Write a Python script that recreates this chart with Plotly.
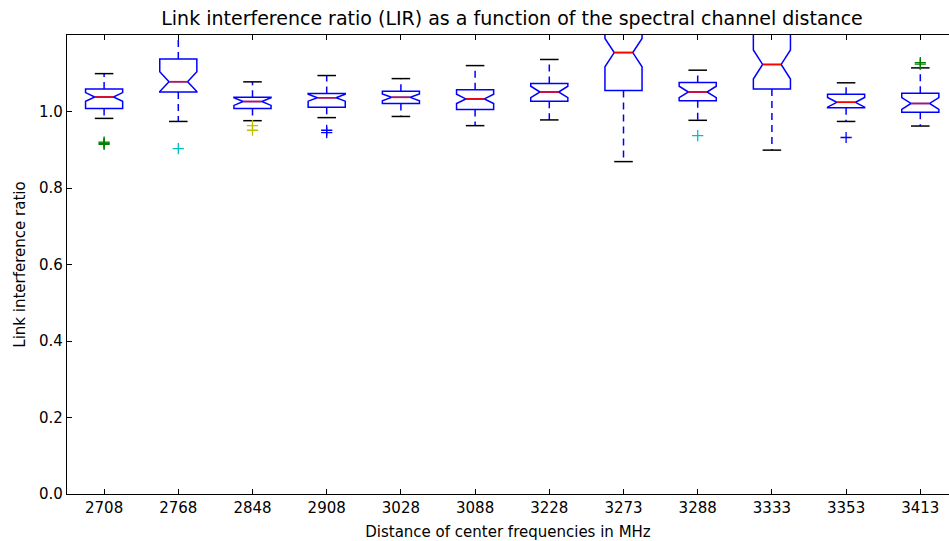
import plotly.graph_objects as go

# ---- data ----
categories = ["2708", "2768", "2848", "2908", "3028", "3088",
              "3228", "3273", "3288", "3333", "3353", "3413"]
q1 = [1.008, 1.051, 1.008, 1.011, 1.021, 1.005, 1.027, 1.055, 1.028, 1.059, 1.010, 0.998]
median = [1.038, 1.078, 1.026, 1.036, 1.037, 1.033, 1.051, 1.154, 1.051, 1.123, 1.024, 1.021]
q3 = [1.059, 1.1375, 1.037, 1.047, 1.053, 1.057, 1.073, 1.26, 1.076, 1.26, 1.045, 1.048]
notch = [0.0113, 0.026, 0.0100, 0.0090, 0.0090, 0.0120, 0.0150, 0.037, 0.0150, 0.038, 0.0125, 0.0155]
whisker_low = [0.982, 0.974, 0.976, 0.984, 0.987, 0.963, 0.978, 0.869, 0.977, 0.899, 0.974, 0.962]
whisker_high = [1.099, 1.23, 1.0775, 1.094, 1.086, 1.120, 1.136, 1.30, 1.108, 1.30, 1.075, 1.114]

# outliers: (category index, value, colour)
outlier_idx = [0, 0, 0, 1, 2, 2, 3, 3, 8, 10, 11, 11]
outlier_val = [0.914, 0.917, 0.920, 0.903, 0.963, 0.951, 0.951, 0.945, 0.937, 0.932, 1.124, 1.128]
outlier_col = ["#008000", "#008000", "#008000", "#00bfbf", "#bfbf00", "#bfbf00",
               "#0000ff", "#0000ff", "#00bfbf", "#0000ff", "#008000", "#008000"]

title = "Link interference ratio (LIR) as a function of the spectral channel distance"
xlabel = "Distance of center frequencies in MHz"
ylabel = "Link interference ratio"
yticks = [0.0, 0.2, 0.4, 0.6, 0.8, 1.0]

# ---- figure ----
pos = list(range(1, len(categories) + 1))
box_w = 0.5
half_cap = box_w / 4

fig = go.Figure()

# boxes (no whiskers from the box trace; whiskers drawn separately as dashed lines)
fig.add_trace(go.Box(
    x=pos, q1=q1, median=median, q3=q3,
    lowerfence=q1, upperfence=q3,
    notched=True, notchspan=notch, notchwidth=0.25,
    width=box_w, whiskerwidth=0,
    fillcolor="rgba(0,0,0,0)",
    line=dict(color="#0000ff", width=1.5),
    boxpoints=False, hoverinfo="skip", showlegend=False,
))

# dashed whiskers
wx, wy = [], []
for p, a, b, lo, hi in zip(pos, q1, q3, whisker_low, whisker_high):
    wx += [p, p, None, p, p, None]
    wy += [a, lo, None, b, hi, None]
fig.add_trace(go.Scatter(x=wx, y=wy, mode="lines",
                         line=dict(color="#0000ff", width=1.5, dash="7px,5px"),
                         hoverinfo="skip", showlegend=False))

# caps
cx, cy = [], []
for p, lo, hi in zip(pos, whisker_low, whisker_high):
    cx += [p - half_cap, p + half_cap, None, p - half_cap, p + half_cap, None]
    cy += [lo, lo, None, hi, hi, None]
fig.add_trace(go.Scatter(x=cx, y=cy, mode="lines",
                         line=dict(color="black", width=1.5),
                         hoverinfo="skip", showlegend=False))

# red medians
mx, my = [], []
for p, m in zip(pos, median):
    mx += [p - half_cap, p + half_cap, None]
    my += [m, m, None]
fig.add_trace(go.Scatter(x=mx, y=my, mode="lines",
                         line=dict(color="#ff0000", width=1.5),
                         hoverinfo="skip", showlegend=False))

# outliers
fig.add_trace(go.Scatter(
    x=[pos[i] for i in outlier_idx], y=outlier_val, mode="markers",
    marker=dict(symbol="cross-thin", size=8, line=dict(width=1.3, color=outlier_col)),
    hoverinfo="skip", showlegend=False))

W, H = 949, 541
left, top, bottom = 67, 35, 47
# the plot area continues past the right edge of the window (x range up to 12.5 at ~957px)
px_per_unit = (920.3 - 104.0) / 11
x_right = 12.5 - (957.4 - W) / px_per_unit

font = "DejaVu Sans"
fig.update_layout(
    width=W, height=H,
    margin=dict(l=left, r=0, t=top, b=bottom, pad=0, autoexpand=False),
    paper_bgcolor="white", plot_bgcolor="white",
    font=dict(family=font, size=15, color="black"),
    title=dict(text=title, xref="container", x=512 / W, xanchor="center",
               yref="container", y=1 - 18 / H, yanchor="middle",
               font=dict(family=font, size=19, color="black")),
    xaxis=dict(range=[0.5, x_right], tickmode="array", tickvals=pos, ticktext=categories,
               automargin=False,
               showgrid=False, zeroline=False, showline=True, linecolor="black", linewidth=1.3,
               mirror="allticks", ticks="inside", ticklen=5, tickwidth=1, tickcolor="black",
               tickfont=dict(family=font, size=15, color="black"),
               title=dict(text=xlabel, font=dict(family=font, size=15, color="black"), standoff=12)),
    yaxis=dict(range=[0, 1.2], tickmode="array", tickvals=yticks,
               ticktext=[f"{v:.1f}" for v in yticks],
               automargin=False,
               showgrid=False, zeroline=False, showline=True, linecolor="black", linewidth=1.3,
               ticks="inside", ticklen=5, tickwidth=1, tickcolor="black",
               tickfont=dict(family=font, size=15, color="black"),
               title=dict(text=ylabel, font=dict(family=font, size=15, color="black"), standoff=9)),
)

fig.write_html("out.html", config={"displayModeBar": False},
               post_script="document.body.style.margin='0';document.body.style.overflow='hidden';")
